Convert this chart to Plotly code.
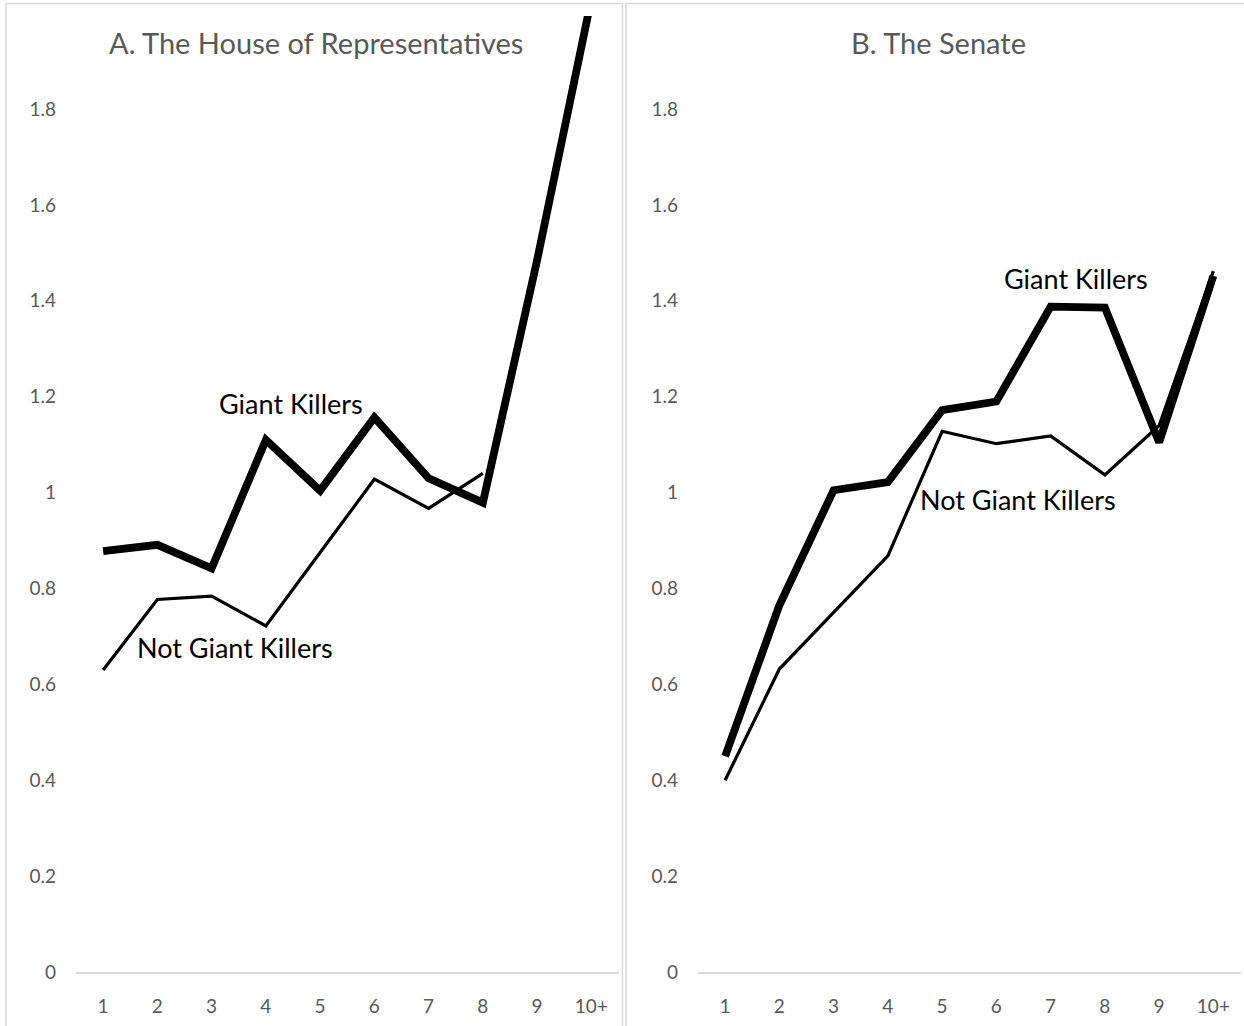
import plotly.graph_objects as go

# Consecutive terms served (category axis)
terms = ["1", "2", "3", "4", "5", "6", "7", "8", "9", "10+"]

# House of Representatives
house_giant_killers = [0.878, 0.891, 0.842, 1.110, 1.004, 1.157, 1.030, 0.979, 1.485, 2.03]
house_not_giant_killers = [0.630, 0.777, 0.784, 0.722, 0.875, 1.028, 0.967, 1.040, None, None]

# Senate
senate_giant_killers = [0.450, 0.765, 1.005, 1.022, 1.172, 1.190, 1.388, 1.386, 1.105, 1.452]
senate_not_giant_killers = [0.400, 0.632, 0.750, 0.868, 1.128, 1.102, 1.118, 1.037, 1.140, 1.462]

y_ticks = [0, 0.2, 0.4, 0.6, 0.8, 1.0, 1.2, 1.4, 1.6, 1.8]
y_tick_text = ["0", "0.2", "0.4", "0.6", "0.8", "1", "1.2", "1.4", "1.6", "1.8"]

W, H = 1244, 1026
FONT = "Lato, 'Open Sans', sans-serif"
GREY_TEXT = "#595959"
GRID = "#d9d9d9"


def px_x(p):
    return p / W


def px_y(p):
    return 1 - p / H


positions = list(range(1, len(terms) + 1))

fig = go.Figure()

# Thin line: not giant killers; thick line: giant killers
fig.add_trace(go.Scatter(x=positions, y=house_not_giant_killers, mode="lines",
                         line=dict(color="black", width=3.2), xaxis="x", yaxis="y",
                         connectgaps=False, showlegend=False))
fig.add_trace(go.Scatter(x=positions, y=house_giant_killers, mode="lines",
                         line=dict(color="black", width=7.8), xaxis="x", yaxis="y",
                         showlegend=False))
fig.add_trace(go.Scatter(x=positions, y=senate_not_giant_killers, mode="lines",
                         line=dict(color="black", width=3.2), xaxis="x2", yaxis="y2",
                         showlegend=False))
fig.add_trace(go.Scatter(x=positions, y=senate_giant_killers, mode="lines",
                         line=dict(color="black", width=7.8), xaxis="x2", yaxis="y2",
                         showlegend=False))

y_domain = [px_y(972), px_y(16)]
y_range = [0, (972 - 16) / 479.4]

common_x = dict(
    range=[0.5, 10.5], tickmode="array", tickvals=positions, ticktext=terms,
    showgrid=False, zeroline=False, showline=True, linecolor=GRID, linewidth=1.5,
    ticks="", ticklabelstandoff=16, automargin=False,
    tickfont=dict(family=FONT, size=19, color=GREY_TEXT), fixedrange=True,
)
common_y = dict(
    range=y_range, domain=y_domain, tickmode="array", tickvals=y_ticks,
    ticktext=y_tick_text, showgrid=False, zeroline=False, showline=False,
    ticks="", ticklabelstandoff=19, automargin=False,
    tickfont=dict(family=FONT, size=19, color=GREY_TEXT), fixedrange=True,
)

fig.update_layout(
    template="none",
    width=W, height=H, autosize=False,
    margin=dict(l=0, r=0, t=0, b=0, pad=0),
    paper_bgcolor="white", plot_bgcolor="white",
    xaxis=dict(domain=[px_x(76), px_x(618.5)], anchor="y", **common_x),
    yaxis=dict(anchor="x", **common_y),
    xaxis2=dict(domain=[px_x(698), px_x(1240.5)], anchor="y2", **common_x),
    yaxis2=dict(anchor="x2", **common_y),
)

# Panel frames
fig.add_shape(type="rect", xref="paper", yref="paper",
              x0=px_x(6), x1=px_x(622.5), y0=-0.05, y1=px_y(3.5),
              line=dict(color=GRID, width=1.5), fillcolor="rgba(0,0,0,0)", layer="below")
fig.add_shape(type="rect", xref="paper", yref="paper",
              x0=px_x(626), x1=1.05, y0=-0.05, y1=px_y(3.5),
              line=dict(color=GRID, width=1.5), fillcolor="rgba(0,0,0,0)", layer="below")

# Panel titles
fig.add_annotation(text="A. The House of Representatives", xref="paper", yref="paper",
                   x=px_x(316), y=px_y(43), xanchor="center", yanchor="middle",
                   showarrow=False, font=dict(family=FONT, size=29, color=GREY_TEXT))
fig.add_annotation(text="B. The Senate", xref="paper", yref="paper",
                   x=px_x(938), y=px_y(43), xanchor="center", yanchor="middle",
                   showarrow=False, font=dict(family=FONT, size=29, color=GREY_TEXT))

# Series labels
label_font = dict(family=FONT, size=27, color="black")
fig.add_annotation(text="Giant Killers", xref="x", yref="y", x=4.47, y=1.185,
                   showarrow=False, font=label_font)
fig.add_annotation(text="Not Giant Killers", xref="x", yref="y", x=3.43, y=0.676,
                   showarrow=False, font=label_font)
fig.add_annotation(text="Giant Killers", xref="x2", yref="y2", x=7.47, y=1.446,
                   showarrow=False, font=label_font)
fig.add_annotation(text="Not Giant Killers", xref="x2", yref="y2", x=6.40, y=0.985,
                   showarrow=False, font=label_font)

fig.write_html("out.html", config={"displayModeBar": False})
